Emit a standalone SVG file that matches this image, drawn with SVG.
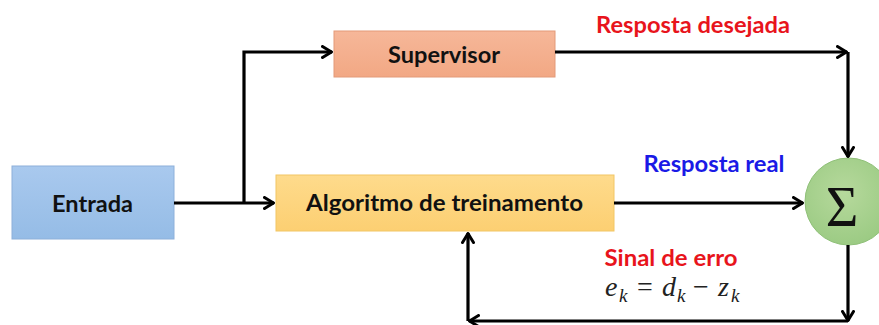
<svg xmlns="http://www.w3.org/2000/svg" width="879" height="325" viewBox="0 0 879 325">
<defs>
<linearGradient id="gBlue" x1="0" y1="0" x2="0" y2="1"><stop offset="0" stop-color="#a9c9ee"/><stop offset="1" stop-color="#95bce6"/></linearGradient>
<linearGradient id="gSalmon" x1="0" y1="0" x2="0" y2="1"><stop offset="0" stop-color="#f6b799"/><stop offset="1" stop-color="#f2a884"/></linearGradient>
<linearGradient id="gYellow" x1="0" y1="0" x2="0" y2="1"><stop offset="0" stop-color="#fedb8c"/><stop offset="1" stop-color="#fccf72"/></linearGradient>
<radialGradient id="gGreen" cx="0.45" cy="0.4" r="0.6"><stop offset="0" stop-color="#b6d99c"/><stop offset="1" stop-color="#9ccb84"/></radialGradient>
<marker id="arr" viewBox="0 0 12 14" refX="11" refY="7" markerWidth="12" markerHeight="14" markerUnits="userSpaceOnUse" orient="auto">
<path d="M1.5,1.5 L10.5,7 L1.5,12.5" fill="none" stroke="#000" stroke-width="3" stroke-linecap="round" stroke-linejoin="round"/>
</marker>
</defs>
<style>
.lbl{font-family:Lato,"Liberation Sans",Arial,sans-serif;font-weight:bold;font-size:23px;text-anchor:middle}
.conn{fill:none;stroke:#000;stroke-width:3.2}
.math{font-family:"Liberation Serif","DejaVu Serif",serif;font-style:italic;font-size:28px;fill:#222}
.sub{font-size:19px}
.op{font-style:normal;font-size:28px;text-anchor:middle}
</style>
<g id="entrada">
<rect x="12" y="166" width="162" height="73" fill="url(#gBlue)" stroke="#8db0da" stroke-width="1"/>
<text class="lbl" x="92.5" y="212" fill="#111" textLength="81" lengthAdjust="spacingAndGlyphs">Entrada</text>
</g>
<g id="supervisor">
<rect x="334" y="31" width="221" height="46" fill="url(#gSalmon)" stroke="#e39a78" stroke-width="1"/>
<text class="lbl" x="444" y="63" fill="#111" textLength="112" lengthAdjust="spacingAndGlyphs">Supervisor</text>
</g>
<g id="algoritmo">
<rect x="276" y="175" width="338" height="56" fill="url(#gYellow)" stroke="#f2c665" stroke-width="1"/>
<text class="lbl" x="444.5" y="211" fill="#111" textLength="277" lengthAdjust="spacingAndGlyphs">Algoritmo de treinamento</text>
</g>
<g id="soma">
<circle cx="848.5" cy="201.5" r="43.5" fill="url(#gGreen)" stroke="#8fc078" stroke-width="1"/>
<text x="842" y="226" font-family="Liberation Serif,DejaVu Serif,serif" font-size="56" text-anchor="middle" fill="#111">Σ</text>
</g>
<g id="connectors">
<path class="conn" d="M174,203 L274,203" marker-end="url(#arr)"/>
<path class="conn" d="M244,203 L244,52 L332,52" marker-end="url(#arr)"/>
<path class="conn" d="M555,52 L847,52" marker-end="url(#arr)"/>
<path class="conn" d="M848,52 L848,157" marker-end="url(#arr)"/>
<path class="conn" d="M614,203 L803,203" marker-end="url(#arr)"/>
<path class="conn" d="M848,245 L848,321" marker-end="url(#arr)"/>
<path class="conn" d="M848,321 L469,321" marker-end="url(#arr)"/>
<path class="conn" d="M468,321 L468,233" marker-end="url(#arr)"/>
</g>
<g id="labels">
<text class="lbl" x="693" y="33" fill="#e8141c" textLength="194" lengthAdjust="spacingAndGlyphs">Resposta desejada</text>
<text class="lbl" x="714" y="172" fill="#1a1ae6" textLength="141" lengthAdjust="spacingAndGlyphs">Resposta real</text>
<text class="lbl" x="671" y="266" fill="#e8141c" textLength="133" lengthAdjust="spacingAndGlyphs">Sinal de erro</text>
<text class="math" y="296"><tspan x="605">e</tspan><tspan class="sub" x="619" y="302">k</tspan><tspan class="op" x="645" y="296">=</tspan><tspan x="662">d</tspan><tspan class="sub" x="677" y="302">k</tspan><tspan class="op" x="701" y="296">−</tspan><tspan x="718">z</tspan><tspan class="sub" x="731" y="302">k</tspan></text>
</g>
</svg>
